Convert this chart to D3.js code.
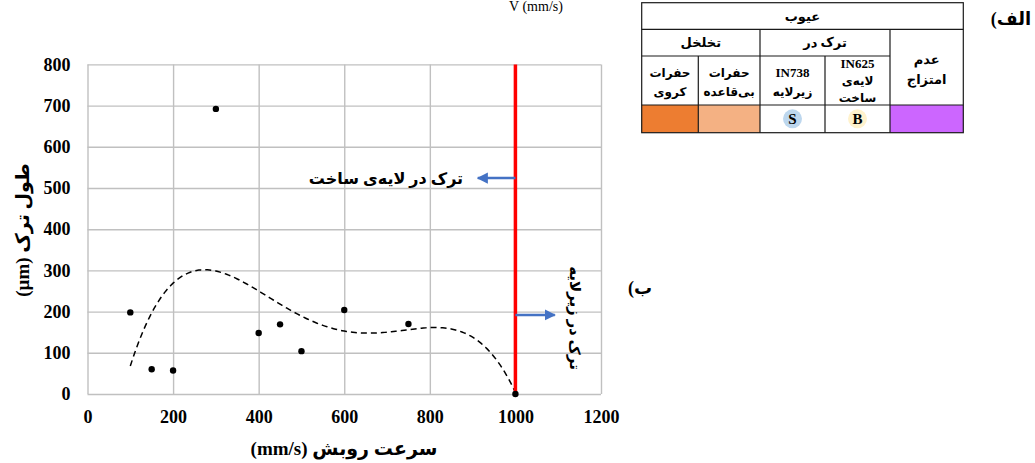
<!DOCTYPE html>
<html>
<head>
<meta charset="utf-8">
<script src="https://cdn.jsdelivr.net/npm/d3@7"></script>
<style>
  html, body { margin: 0; padding: 0; background: #fff; }
  svg { display: block; }
</style>
</head>
<body>
<svg id="chart" width="1035" height="463"></svg>
<script>
// Scan speed (mm/s) and measured crack length (µm)
const speed = [100, 150, 200, 300, 400, 450, 500, 600, 750, 1000];
const crackLength = [198, 60, 57, 692, 148, 169, 104, 204, 170, 0];
const xTicks = [0, 200, 400, 600, 800, 1000, 1200];
const yTicks = [0, 100, 200, 300, 400, 500, 600, 700, 800];
const trendOrder = 4;
const boundarySpeed = 1000;

// Defect legend table
const defectHeader = "عیوب";
const groupLabels = ["تخلخل", "ترک در", "عدم\nامتزاج"];
const defectLabels = ["حفرات\nکروی", "حفرات\nبی‌قاعده", "IN738\nزیرلایه", "IN625\nلایه‌ی\nساخت"];
const defectColors = ["#ED7D31", "#F4B183", "#FFFFFF", "#FFFFFF", "#CC66FF"];
const defectBadges = [null, null, {letter: "S", fill: "#BDD7EE"}, {letter: "B", fill: "#FFF2CC"}, null];

const SERIF = "'Liberation Serif', 'Times New Roman', 'DejaVu Sans', serif";
const ARABIC = "'Liberation Serif', 'DejaVu Sans', sans-serif";

const svg = d3.select("#chart");
const x = d3.scaleLinear().domain([0, 1200]).range([87.5, 601]);
const y = d3.scaleLinear().domain([0, 800]).range([394, 64.4]);

// Least-squares polynomial trend line
function polyfit(xs, ys, order) {
  const n = order + 1;
  const A = Array.from({length: n}, () => new Array(n + 1).fill(0));
  xs.forEach((xv, k) => {
    const t = xv / 1000;
    for (let i = 0; i < n; i++) {
      for (let j = 0; j < n; j++) A[i][j] += Math.pow(t, i + j);
      A[i][n] += ys[k] * Math.pow(t, i);
    }
  });
  for (let c = 0; c < n; c++) {
    let p = c;
    for (let r = c + 1; r < n; r++) if (Math.abs(A[r][c]) > Math.abs(A[p][c])) p = r;
    [A[c], A[p]] = [A[p], A[c]];
    for (let r = 0; r < n; r++) {
      if (r === c) continue;
      const f = A[r][c] / A[c][c];
      for (let k = c; k <= n; k++) A[r][k] -= f * A[c][k];
    }
  }
  const coef = A.map((row, i) => row[n] / row[i]);
  return xv => coef.reduce((s, cf, i) => s + cf * Math.pow(xv / 1000, i), 0);
}

// Grid and axes
const styleAxis = g => {
  g.select(".domain").remove();
  g.selectAll("line").attr("stroke", "#c0c0c0").attr("stroke-width", 1.4);
  g.selectAll("text").attr("font-family", SERIF).attr("font-weight", "bold")
    .attr("font-size", 18).attr("fill", "#000");
};
svg.append("g").attr("transform", `translate(0,${y(0)})`)
  .call(d3.axisBottom(x).tickValues(xTicks).tickFormat(d3.format("d"))
    .tickSizeInner(-(y(0) - y(800))).tickSizeOuter(0).tickPadding(16))
  .call(styleAxis);
svg.append("g").attr("transform", `translate(${x(0)},0)`)
  .call(d3.axisLeft(y).tickValues(yTicks).tickFormat(d3.format("d"))
    .tickSizeInner(-(x(1200) - x(0))).tickSizeOuter(0).tickPadding(17))
  .call(styleAxis);

// Trend line
const trend = polyfit(speed, crackLength, trendOrder);
const xs = d3.range(d3.min(speed), d3.max(speed) + 1, 5);
svg.append("path").attr("fill", "none").attr("stroke", "#000").attr("stroke-width", 1.5)
  .attr("stroke-dasharray", "6,4")
  .attr("d", d3.line().x(d => x(d)).y(d => y(trend(d)))(xs));

// Boundary between the two cracking regimes
svg.append("line")
  .attr("x1", x(boundarySpeed)).attr("x2", x(boundarySpeed))
  .attr("y1", y(800)).attr("y2", y(0))
  .attr("stroke", "#FF0000").attr("stroke-width", 3.5);

// Arrows
const defs = svg.append("defs");
defs.append("marker").attr("id", "arrowHead").attr("viewBox", "0 0 10 10")
  .attr("refX", 9).attr("refY", 5).attr("markerWidth", 4.5).attr("markerHeight", 4.5)
  .attr("orient", "auto").attr("markerUnits", "strokeWidth")
  .append("path").attr("d", "M0,0L10,5L0,10Z").attr("fill", "#4472C4");

function arrow(fromX, toX, atY) {
  svg.append("line")
    .attr("x1", x(fromX)).attr("x2", x(toX)).attr("y1", y(atY)).attr("y2", y(atY))
    .attr("stroke", "#4472C4").attr("stroke-width", 2.5).attr("marker-end", "url(#arrowHead)");
}
arrow(boundarySpeed, 912, 524);
arrow(boundarySpeed, 1092, 192);

svg.append("text")
  .attr("x", 386).attr("y", y(524)).attr("dy", "0.35em")
  .attr("text-anchor", "middle").attr("direction", "rtl")
  .attr("font-family", ARABIC).attr("font-weight", "bold").attr("font-size", 16)
  .text("ترک در لایه‌ی ساخت");

svg.append("text")
  .attr("transform", `translate(575,318) rotate(90)`)
  .attr("dy", "0.35em").attr("text-anchor", "middle").attr("direction", "rtl")
  .attr("font-family", ARABIC).attr("font-weight", "bold").attr("font-size", 15)
  .text("ترک در زیرلایه");

// Data points
svg.append("g").selectAll("circle").data(speed).join("circle")
  .attr("cx", d => x(d)).attr("cy", (d, i) => y(crackLength[i]))
  .attr("r", 3.2).attr("fill", "#000");

// Axis titles
svg.append("text")
  .attr("x", 344).attr("y", 448).attr("dy", "0.35em")
  .attr("text-anchor", "middle").attr("direction", "rtl")
  .attr("font-family", ARABIC).attr("font-weight", "bold").attr("font-size", 19)
  .text("سرعت روبش (mm/s)");

svg.append("text")
  .attr("transform", "translate(22,230) rotate(-90)")
  .attr("dy", "0.35em").attr("text-anchor", "middle").attr("direction", "rtl")
  .attr("font-family", ARABIC).attr("font-weight", "bold").attr("font-size", 19)
  .text("طول ترک (µm)");

// Panel labels and top caption
svg.append("text").attr("x", 536).attr("y", 11)
  .attr("text-anchor", "middle").attr("font-family", SERIF).attr("font-size", 14)
  .text("V (mm/s)");
svg.append("text").attr("x", 640).attr("y", 288).attr("dy", "0.35em")
  .attr("text-anchor", "middle").attr("direction", "rtl")
  .attr("font-family", ARABIC).attr("font-weight", "bold").attr("font-size", 18)
  .text("ب)");
svg.append("text").attr("x", 1011).attr("y", 19).attr("dy", "0.35em")
  .attr("text-anchor", "middle").attr("direction", "rtl")
  .attr("font-family", ARABIC).attr("font-weight", "bold").attr("font-size", 18)
  .text("الف)");

// Legend table
const colEdges = [641.7, 698.3, 760, 825, 890, 963.3];
const rowEdges = [2.7, 29.3, 56, 105, 132.7];
const table = svg.append("g");

function cellText(cx, cy, label, size, lineGap) {
  const lines = label.split("\n");
  const t = table.append("text").attr("text-anchor", "middle").attr("direction", "rtl")
    .attr("font-family", ARABIC).attr("font-weight", "bold").attr("font-size", size);
  lines.forEach((ln, i) => {
    t.append("tspan").attr("x", cx)
      .attr("y", cy + (i - (lines.length - 1) / 2) * lineGap)
      .attr("dy", "0.35em").text(ln);
  });
}

// color swatch row
defectColors.forEach((c, i) => {
  table.append("rect")
    .attr("x", colEdges[i]).attr("y", rowEdges[3])
    .attr("width", colEdges[i + 1] - colEdges[i]).attr("height", rowEdges[4] - rowEdges[3])
    .attr("fill", c);
  const b = defectBadges[i];
  if (b) {
    const cx = (colEdges[i] + colEdges[i + 1]) / 2, cy = (rowEdges[3] + rowEdges[4]) / 2;
    table.append("circle").attr("cx", cx).attr("cy", cy).attr("r", 9.5).attr("fill", b.fill);
    table.append("text").attr("x", cx).attr("y", cy).attr("dy", "0.35em")
      .attr("text-anchor", "middle").attr("font-family", SERIF).attr("font-weight", "bold")
      .attr("font-size", 15).text(b.letter);
  }
});

// borders
const borderColor = "#1a1a1a", borderWidth = 1.2;
function hline(x1, x2, yy) {
  table.append("line").attr("x1", x1).attr("x2", x2).attr("y1", yy).attr("y2", yy)
    .attr("stroke", borderColor).attr("stroke-width", borderWidth);
}
function vline(xx, y1, y2) {
  table.append("line").attr("x1", xx).attr("x2", xx).attr("y1", y1).attr("y2", y2)
    .attr("stroke", borderColor).attr("stroke-width", borderWidth);
}
table.append("rect").attr("x", colEdges[0]).attr("y", rowEdges[0])
  .attr("width", colEdges[5] - colEdges[0]).attr("height", rowEdges[4] - rowEdges[0])
  .attr("fill", "none").attr("stroke", borderColor).attr("stroke-width", borderWidth);
hline(colEdges[0], colEdges[5], rowEdges[1]);
hline(colEdges[0], colEdges[4], rowEdges[2]);
hline(colEdges[0], colEdges[5], rowEdges[3]);
vline(colEdges[2], rowEdges[1], rowEdges[4]);
vline(colEdges[4], rowEdges[1], rowEdges[4]);
vline(colEdges[1], rowEdges[2], rowEdges[4]);
vline(colEdges[3], rowEdges[2], rowEdges[4]);

// table labels
cellText((colEdges[0] + colEdges[5]) / 2, (rowEdges[0] + rowEdges[1]) / 2, defectHeader, 13, 0);
cellText((colEdges[0] + colEdges[2]) / 2, (rowEdges[1] + rowEdges[2]) / 2, groupLabels[0], 13, 0);
cellText((colEdges[2] + colEdges[4]) / 2, (rowEdges[1] + rowEdges[2]) / 2, groupLabels[1], 13, 0);
cellText((colEdges[4] + colEdges[5]) / 2, (rowEdges[1] + rowEdges[3]) / 2 + 2, groupLabels[2], 13, 20);
defectLabels.forEach((lab, i) => {
  const three = lab.split("\n").length > 2;
  cellText((colEdges[i] + colEdges[i + 1]) / 2, (rowEdges[2] + rowEdges[3]) / 2 + (three ? 0 : 1.5),
    lab, 12, three ? 17.5 : 19);
});
table.selectAll("tspan").filter(function() { return /^IN/.test(this.textContent); })
  .attr("font-family", SERIF).attr("font-size", 13);
</script>
</body>
</html>
